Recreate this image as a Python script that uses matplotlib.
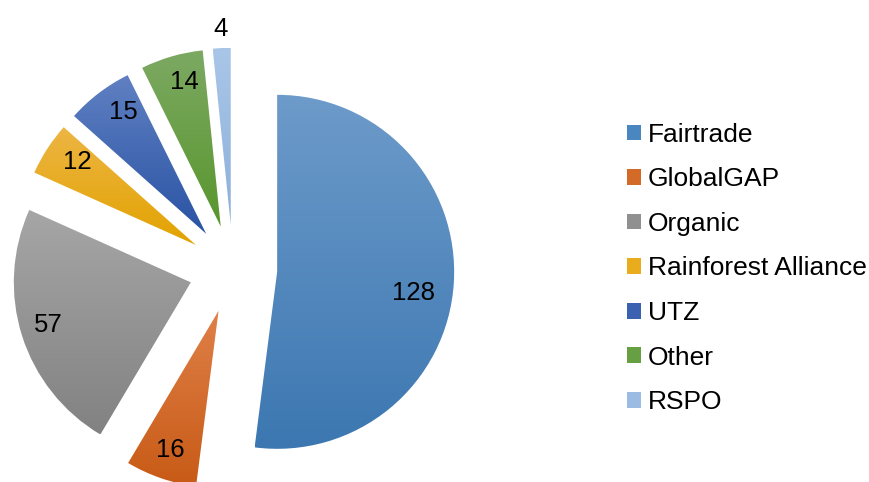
import numpy as np
import matplotlib
matplotlib.use("Agg")
import matplotlib.pyplot as plt
from matplotlib.colors import LinearSegmentedColormap
from matplotlib.patches import Patch

categories = ["Fairtrade", "GlobalGAP", "Organic", "Rainforest Alliance", "UTZ", "Other", "RSPO"]
values = [128, 16, 57, 12, 15, 14, 4]

# gradient colours (top, bottom) per slice
top_colors = ["#6D9BCA", "#DF8048", "#A6A6A6", "#EDB544", "#6080C2", "#7DA963", "#A9C6E8"]
bot_colors = ["#3C77B1", "#C85A16", "#828282", "#E2A300", "#2953A4", "#58962D", "#8CB0DA"]
legend_colors = ["#4A86C0", "#D36A28", "#909090", "#E8AC1C", "#3A62B0", "#67A043", "#9BBBE2"]

# label placement (fraction of radius from wedge apex, angle offset in degrees)
label_r = [0.78, 0.83, 0.84, 0.82, 0.83, 0.84, 1.11]
label_dth = [-5, 0, -1, -2, -3, -2, 0]

plt.rcParams['font.family'] = ['Liberation Sans', 'DejaVu Sans']
fig = plt.figure(figsize=(8.70, 4.82), dpi=100)
ax = fig.add_axes([0, 0, 1, 1])

wedges, _ = ax.pie(values, startangle=90, counterclock=False,
                   explode=[0.25] * len(values), radius=1.0,
                   wedgeprops=dict(linewidth=0))

for w, c0, c1, fr, dth, v in zip(wedges, top_colors, bot_colors, label_r, label_dth, values):
    verts = w.get_path().vertices
    xmin, ymin = verts.min(axis=0)
    xmax, ymax = verts.max(axis=0)
    cmap = LinearSegmentedColormap.from_list("g", [c0, c1])
    grad = np.linspace(0, 1, 256).reshape(-1, 1)
    im = ax.imshow(grad, cmap=cmap, extent=[xmin, xmax, ymin, ymax],
                   origin="upper", aspect="auto", zorder=2, interpolation="bilinear")
    im.set_clip_path(w)
    w.set_facecolor("none")
    th = np.deg2rad((w.theta1 + w.theta2) / 2 + dth)
    cx, cy = w.center
    ax.text(cx + fr * w.r * np.cos(th), cy + fr * w.r * np.sin(th), str(v),
            ha="center", va="center", fontsize=18.5, color="black", zorder=5)

ax.set_xlim(-233 / 177, (870 - 233) / 177)
ax.set_ylim((269 - 482) / 177, 269 / 177)
ax.set_aspect("auto")
ax.axis("off")

handles = [Patch(facecolor=c, edgecolor="none") for c in legend_colors]
fig.legend(handles, categories, loc="center left", bbox_to_anchor=(627 / 870, 0.443),
           frameon=False, fontsize=19, handlelength=0.54, handleheight=0.54,
           handletextpad=0.25, labelspacing=0.78, borderpad=0, borderaxespad=0)

fig.savefig("out.png", dpi=100)
